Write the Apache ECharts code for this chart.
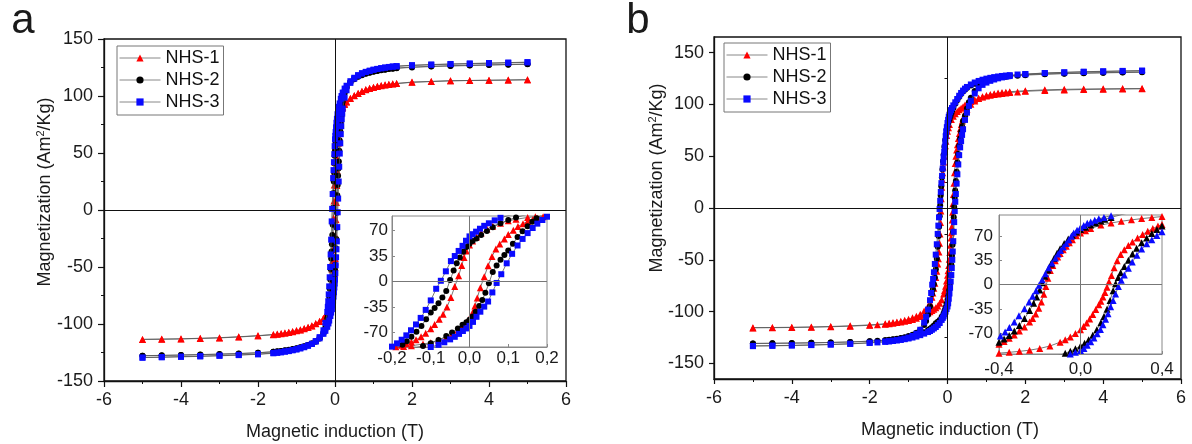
<!DOCTYPE html>
<html><head><meta charset="utf-8">
<script src="https://cdn.jsdelivr.net/npm/echarts@6/dist/echarts.min.js"></script>
<style>html,body{margin:0;padding:0;background:#fff}#c{width:1192px;height:444px}</style>
</head><body><div id="c"></div>
<script>
// ---------- names / ticks ----------
const SERIES_NAMES = ['NHS-1', 'NHS-2', 'NHS-3'];
const Y_TICKS_B = [-150, -100, -50, 0, 50, 100, 150];
const Y_MINOR_B = [-125, -75, -25, 25, 75, 125];
const Y_TICKS_INSET = [-70, -35, 0, 35, 70];

// ---------- panel a: NHS-1 ----------
const A1_DOWN = [[5,114.2],[4.5,114],[4,113.8],[3.5,113.6],[3,113.4],[2.5,112.8],[2,112.2],[1.6,111],[1.5,110.7],[1.4,110.3],[1.3,109.8],[1.2,109.2],[1.1,108.5],[1,107.7],[0.9,106.8],[0.8,105.6],[0.7,104.2],[0.6,102.5],[0.5,100.5],[0.4,98],[0.3,95],[0.25,93],[0.2,90.5],[0.17,89],[0.15,88],[0.12,85.5],[0.1,83.5],[0.08,80],[0.06,76],[0.045,72],[0.03,66.5],[0.018,61],[0.008,55.5],[0,50],[-0.008,42],[-0.014,33],[-0.02,22],[-0.028,8],[-0.038,-7],[-0.048,-22],[-0.058,-35],[-0.068,-45],[-0.078,-52],[-0.09,-59],[-0.1,-65],[-0.113,-71],[-0.125,-76],[-0.138,-80],[-0.15,-83],[-0.163,-85.5],[-0.175,-87.5],[-0.19,-89.5],[-0.2,-91],[-0.25,-93],[-0.3,-95],[-0.4,-97.5],[-0.5,-99.5],[-0.6,-101.5],[-0.7,-102.8],[-0.8,-104],[-0.9,-105],[-1,-105.8],[-1.1,-106.6],[-1.2,-107.2],[-1.3,-107.8],[-1.4,-108.3],[-1.5,-108.8],[-1.6,-109.2],[-2,-110.2],[-2.5,-111.2],[-3,-112],[-3.5,-112.5],[-4,-113],[-4.5,-113.2],[-5,-113.5]];
const A1_UP = [[-5,-113.7],[-4.5,-113.4],[-4,-113.1],[-3.5,-112.7],[-3,-112.2],[-2.5,-111.4],[-2,-110.4],[-1.6,-109.4],[-1.5,-109],[-1.4,-108.5],[-1.3,-108],[-1.2,-107.4],[-1.1,-106.8],[-1,-106],[-0.9,-105.2],[-0.8,-104.2],[-0.7,-103],[-0.6,-101.7],[-0.5,-99.8],[-0.4,-97.8],[-0.3,-95.2],[-0.25,-93.4],[-0.2,-91.3],[-0.17,-89.3],[-0.15,-88.2],[-0.12,-86],[-0.1,-84],[-0.08,-80.5],[-0.06,-76.5],[-0.045,-72.5],[-0.03,-67],[-0.018,-61.5],[-0.008,-56],[0,-50.5],[0.008,-42.5],[0.014,-33.5],[0.02,-22.5],[0.028,-8.5],[0.038,6.5],[0.048,21.5],[0.058,34.5],[0.068,44.5],[0.078,51.5],[0.09,58.5],[0.1,64.5],[0.113,70.5],[0.125,75.5],[0.138,79.5],[0.15,82.5],[0.163,85],[0.175,87],[0.19,89],[0.2,90.2],[0.25,92.6],[0.3,94.7],[0.4,97.7],[0.5,100.2],[0.6,102.3],[0.7,104],[0.8,105.4],[0.9,106.6],[1,107.5],[1.1,108.3],[1.2,109],[1.3,109.6],[1.4,110.1],[1.5,110.5],[1.6,110.9],[2,112],[2.5,112.7],[3,113.3],[3.5,113.6],[4,113.8],[4.5,114],[5,114.3]];

// ---------- panel a: NHS-2 ----------
const A2_DOWN = [[5,127.8],[4.5,127.5],[4,127.1],[3.5,126.7],[3,126.3],[2.5,125.8],[2,125.1],[1.6,124.3],[1.5,124],[1.4,123.6],[1.3,123.1],[1.2,122.6],[1.1,122],[1,121.3],[0.9,120.5],[0.8,119.5],[0.7,118.3],[0.6,116.8],[0.5,114.8],[0.4,112],[0.3,107.8],[0.25,104.5],[0.2,99.5],[0.17,95.5],[0.15,92.5],[0.12,88],[0.1,84.5],[0.08,80],[0.06,74.5],[0.045,69.5],[0.03,64],[0.018,59],[0.008,55.5],[0,52],[-0.008,47.5],[-0.016,41],[-0.025,33],[-0.033,25],[-0.041,15],[-0.05,2],[-0.06,-13],[-0.07,-22],[-0.08,-30],[-0.09,-36.5],[-0.1,-42.5],[-0.112,-52],[-0.124,-61],[-0.137,-69],[-0.15,-76],[-0.162,-82],[-0.173,-87],[-0.187,-91.5],[-0.2,-95],[-0.25,-103],[-0.3,-108],[-0.4,-112.8],[-0.5,-115.3],[-0.6,-117.1],[-0.7,-118.5],[-0.8,-119.6],[-0.9,-120.5],[-1,-121.3],[-1.1,-122],[-1.2,-122.6],[-1.3,-123.1],[-1.4,-123.6],[-1.5,-124],[-1.6,-124.3],[-2,-125.2],[-2.5,-125.9],[-3,-126.4],[-3.5,-126.8],[-4,-127.2],[-4.5,-127.5],[-5,-127.8]];
const A2_UP = [[-5,-127.9],[-4.5,-127.6],[-4,-127.3],[-3.5,-126.9],[-3,-126.5],[-2.5,-126],[-2,-125.3],[-1.6,-124.4],[-1.5,-124.1],[-1.4,-123.7],[-1.3,-123.2],[-1.2,-122.7],[-1.1,-122.1],[-1,-121.4],[-0.9,-120.6],[-0.8,-119.7],[-0.7,-118.6],[-0.6,-117.2],[-0.5,-115.3],[-0.4,-112.5],[-0.3,-108.3],[-0.25,-105.3],[-0.2,-100],[-0.17,-96],[-0.15,-92.5],[-0.12,-88.5],[-0.1,-85],[-0.08,-80.5],[-0.06,-75],[-0.045,-70],[-0.03,-64.5],[-0.018,-59.5],[-0.008,-56],[0,-52.5],[0.008,-48],[0.016,-41.5],[0.025,-33.5],[0.033,-25.5],[0.041,-15.5],[0.05,-2.5],[0.06,13],[0.07,22],[0.08,30],[0.09,36.5],[0.1,42.5],[0.112,52],[0.124,61],[0.137,69],[0.15,76],[0.162,82],[0.173,87],[0.187,91.5],[0.2,95],[0.25,102.5],[0.3,107.5],[0.4,112.5],[0.5,115.2],[0.6,117.2],[0.7,118.7],[0.8,119.8],[0.9,120.7],[1,121.5],[1.1,122.2],[1.2,122.8],[1.3,123.3],[1.4,123.8],[1.5,124.2],[1.6,124.5],[2,125.4],[2.5,126.1],[3,126.6],[3.5,127],[4,127.4],[4.5,127.7],[5,128]];

// ---------- panel a: NHS-3 ----------
const A3_DOWN = [[5,129.5],[4.5,129.1],[4,128.7],[3.5,128.3],[3,127.9],[2.5,127.4],[2,126.8],[1.6,126],[1.5,125.7],[1.4,125.3],[1.3,124.8],[1.2,124.3],[1.1,123.7],[1,123],[0.9,122.2],[0.8,121.2],[0.7,120],[0.6,118.3],[0.5,116],[0.4,113],[0.3,109],[0.25,106.5],[0.2,103],[0.17,100],[0.15,97.5],[0.12,93.5],[0.1,90.5],[0.08,87.5],[0.065,84],[0.05,80],[0.038,76.5],[0.027,72.5],[0.017,68.5],[0.008,65],[0,62],[-0.009,56],[-0.018,49],[-0.028,42],[-0.038,35],[-0.048,28],[-0.061,14],[-0.074,1],[-0.086,-10],[-0.1,-26],[-0.113,-39],[-0.126,-50],[-0.138,-59],[-0.151,-67],[-0.163,-74],[-0.175,-80],[-0.187,-85],[-0.2,-89.5],[-0.25,-99],[-0.3,-105.5],[-0.4,-111.5],[-0.5,-115],[-0.6,-117.3],[-0.7,-118.8],[-0.8,-120],[-0.9,-121],[-1,-122],[-1.1,-122.8],[-1.2,-123.5],[-1.3,-124],[-1.4,-124.6],[-1.5,-125],[-1.6,-125.4],[-2,-126.4],[-2.5,-127.1],[-3,-127.7],[-3.5,-128.2],[-4,-128.6],[-4.5,-129],[-5,-129.4]];
const A3_UP = [[-5,-129.6],[-4.5,-129.2],[-4,-128.8],[-3.5,-128.4],[-3,-127.9],[-2.5,-127.3],[-2,-126.6],[-1.6,-125.7],[-1.5,-125.3],[-1.4,-124.9],[-1.3,-124.3],[-1.2,-123.8],[-1.1,-123.1],[-1,-122.4],[-0.9,-121.5],[-0.8,-120.4],[-0.7,-119.1],[-0.6,-117.5],[-0.5,-115.4],[-0.4,-112.6],[-0.3,-108.6],[-0.25,-106],[-0.2,-102.5],[-0.17,-99.5],[-0.15,-97],[-0.12,-93],[-0.1,-90],[-0.08,-87],[-0.065,-83.5],[-0.05,-79.5],[-0.038,-76],[-0.027,-72],[-0.017,-68],[-0.008,-64.5],[0,-61],[0.009,-55.5],[0.018,-48.5],[0.028,-41.5],[0.038,-34.5],[0.048,-27.5],[0.059,-15],[0.07,-2],[0.082,10],[0.096,25],[0.11,38],[0.124,49.5],[0.137,58.5],[0.15,66.5],[0.163,73.5],[0.175,79.5],[0.188,84.5],[0.2,89],[0.25,98.5],[0.3,105],[0.4,111.5],[0.5,115.2],[0.6,117.8],[0.7,119.7],[0.8,121],[0.9,122],[1,123],[1.1,123.8],[1.2,124.4],[1.3,125],[1.4,125.5],[1.5,125.9],[1.6,126.2],[2,127],[2.5,127.6],[3,128.1],[3.5,128.5],[4,128.9],[4.5,129.3],[5,129.7]];

// ---------- panel b: NHS-1 ----------
const B1_DOWN = [[5,115],[4.5,114.8],[4,114.6],[3.5,114.3],[3,113.9],[2.5,113.4],[2,112.6],[1.8,112],[1.6,111.4],[1.5,111],[1.4,110.5],[1.3,110],[1.2,109.4],[1.1,108.7],[1,108],[0.9,107],[0.8,105.8],[0.7,104.4],[0.6,102.7],[0.5,100.6],[0.45,99.3],[0.4,97.8],[0.35,96.3],[0.3,94.8],[0.25,93],[0.2,91],[0.15,88.5],[0.1,85.5],[0.05,80.5],[0.025,77.5],[0,74],[-0.02,70],[-0.04,64.5],[-0.055,60],[-0.07,55],[-0.085,50],[-0.1,44.5],[-0.112,39.5],[-0.124,34],[-0.136,27.5],[-0.148,20],[-0.16,9],[-0.17,-3],[-0.18,-14],[-0.192,-25],[-0.205,-34],[-0.22,-42.5],[-0.235,-49],[-0.25,-54],[-0.275,-61],[-0.3,-67],[-0.325,-72.5],[-0.35,-77.5],[-0.375,-82],[-0.4,-86],[-0.45,-91.5],[-0.5,-95],[-0.6,-99.5],[-0.7,-102.5],[-0.8,-104.5],[-0.9,-106],[-1,-107.3],[-1.1,-108.4],[-1.2,-109.3],[-1.3,-110],[-1.4,-110.6],[-1.5,-111.2],[-1.6,-111.7],[-2,-112.8],[-2.5,-113.7],[-3,-114.3],[-3.5,-114.8],[-4,-115.1],[-4.5,-115.3],[-5,-115.5]];
const B1_UP = [[-5,-115.7],[-4.5,-115.5],[-4,-115.3],[-3.5,-115],[-3,-114.6],[-2.5,-114],[-2,-113.2],[-1.8,-112.7],[-1.6,-112.1],[-1.5,-111.7],[-1.4,-111.2],[-1.3,-110.6],[-1.2,-110],[-1.1,-109.3],[-1,-108.5],[-0.9,-107.5],[-0.8,-106.3],[-0.7,-104.8],[-0.6,-103],[-0.5,-101],[-0.45,-100],[-0.4,-98.8],[-0.35,-97.6],[-0.3,-96.2],[-0.25,-94.5],[-0.2,-92],[-0.15,-88.5],[-0.1,-83],[-0.075,-79.5],[-0.05,-75.5],[-0.025,-70.5],[0,-65],[0.015,-60.5],[0.03,-55.5],[0.045,-49.5],[0.06,-43],[0.075,-36],[0.09,-29],[0.1,-24],[0.11,-18],[0.12,-11.5],[0.13,-4],[0.14,4],[0.152,13],[0.165,24],[0.18,34],[0.197,43],[0.215,50],[0.235,56],[0.255,61],[0.28,67],[0.305,72],[0.33,76.5],[0.355,80.5],[0.38,84],[0.4,86.5],[0.45,91.5],[0.5,95],[0.6,100],[0.7,103.3],[0.8,105.7],[0.9,107.3],[1,108.6],[1.1,109.6],[1.2,110.3],[1.3,110.9],[1.4,111.4],[1.5,111.8],[1.6,112.2],[2,113.2],[2.5,114],[3,114.5],[3.5,114.8],[4,115],[4.5,115.2],[5,115.3]];

// ---------- panel b: NHS-2 ----------
const B2_DOWN = [[5,131],[4.5,130.7],[4,130.4],[3.5,130],[3,129.6],[2.5,129],[2,128.2],[1.8,127.7],[1.6,127.1],[1.5,126.7],[1.4,126.3],[1.3,125.8],[1.2,125.2],[1.1,124.5],[1,123.7],[0.9,122.7],[0.8,121.5],[0.7,120],[0.6,118.2],[0.5,115.8],[0.45,114.2],[0.4,112.3],[0.35,110],[0.3,107.2],[0.25,104],[0.2,100.5],[0.15,96.5],[0.12,94],[0.1,91.5],[0.075,88.5],[0.05,85.5],[0.025,82.5],[0,79],[-0.02,75.5],[-0.04,71],[-0.06,65.5],[-0.08,59],[-0.1,51.5],[-0.115,45],[-0.13,37.5],[-0.145,29.5],[-0.16,21],[-0.175,12],[-0.188,2.5],[-0.2,-8],[-0.215,-18],[-0.23,-27],[-0.25,-37.5],[-0.275,-49],[-0.3,-59],[-0.325,-67],[-0.35,-73.5],[-0.375,-78.5],[-0.4,-83],[-0.45,-95],[-0.5,-103],[-0.55,-109],[-0.6,-113],[-0.7,-117.5],[-0.8,-120.3],[-0.9,-122.2],[-1,-123.6],[-1.1,-124.6],[-1.2,-125.4],[-1.3,-126.1],[-1.4,-126.7],[-1.5,-127.1],[-1.6,-127.5],[-2,-128.5],[-2.5,-129.3],[-3,-129.8],[-3.5,-130.1],[-4,-130.3],[-4.5,-130.5],[-5,-130.7]];
const B2_UP = [[-5,-130.8],[-4.5,-130.6],[-4,-130.4],[-3.5,-130.1],[-3,-129.7],[-2.5,-129.2],[-2,-128.5],[-1.8,-128.1],[-1.6,-127.6],[-1.5,-127.3],[-1.4,-126.9],[-1.3,-126.4],[-1.2,-125.9],[-1.1,-125.3],[-1,-124.6],[-0.9,-123.8],[-0.8,-122.7],[-0.7,-121.4],[-0.6,-119.8],[-0.5,-117.7],[-0.45,-116.4],[-0.4,-115],[-0.35,-113.3],[-0.3,-111.3],[-0.25,-109.8],[-0.2,-108],[-0.15,-105],[-0.1,-101.5],[-0.075,-99],[-0.05,-96],[-0.025,-92.5],[0,-88.5],[0.02,-84.5],[0.04,-79.5],[0.06,-73],[0.08,-65],[0.1,-55],[0.115,-46],[0.13,-35.5],[0.145,-23],[0.16,-9],[0.172,1],[0.185,10],[0.197,17],[0.215,26],[0.235,35],[0.255,44],[0.275,52],[0.3,60],[0.325,67],[0.35,73.5],[0.375,79],[0.4,84],[0.45,89],[0.5,96],[0.55,102],[0.6,106.5],[0.7,113],[0.8,117.5],[0.9,120.7],[1,122.8],[1.1,124.2],[1.2,125.3],[1.3,126.1],[1.4,126.7],[1.5,127.2],[1.6,127.6],[2,128.6],[2.5,129.4],[3,129.9],[3.5,130.3],[4,130.6],[4.5,130.9],[5,131.2]];

// ---------- panel b: NHS-3 ----------
const B3_DOWN = [[5,132.3],[4.5,132],[4,131.7],[3.5,131.3],[3,130.8],[2.5,130.2],[2,129.3],[1.8,128.8],[1.6,128.2],[1.5,127.8],[1.4,127.4],[1.3,126.9],[1.2,126.3],[1.1,125.6],[1,124.8],[0.9,123.8],[0.8,122.6],[0.7,121.1],[0.6,119.2],[0.5,116.8],[0.45,115.2],[0.4,113.3],[0.35,111],[0.3,108.3],[0.25,105.2],[0.2,102],[0.15,99],[0.115,96.5],[0.09,94.5],[0.07,92.5],[0.05,90],[0.033,88],[0.016,85],[0,82],[-0.017,78],[-0.033,74],[-0.045,69.5],[-0.057,64],[-0.07,59],[-0.084,54],[-0.098,49],[-0.11,44],[-0.123,38],[-0.14,31],[-0.156,24],[-0.172,15.5],[-0.188,7],[-0.203,-1],[-0.218,-9],[-0.235,-17],[-0.252,-25],[-0.275,-35],[-0.302,-45],[-0.325,-54],[-0.349,-62],[-0.37,-68.5],[-0.393,-74],[-0.42,-82],[-0.45,-89],[-0.5,-98],[-0.55,-105],[-0.6,-110.5],[-0.7,-117.5],[-0.8,-121.3],[-0.9,-123.5],[-1,-125],[-1.1,-126],[-1.2,-126.8],[-1.3,-127.5],[-1.4,-128],[-1.5,-128.5],[-1.6,-128.9],[-2,-130],[-2.5,-131],[-3,-131.6],[-3.5,-132.1],[-4,-132.5],[-4.5,-132.8],[-5,-133.1]];
const B3_UP = [[-5,-133.3],[-4.5,-133],[-4,-132.7],[-3.5,-132.3],[-3,-131.8],[-2.5,-131.1],[-2,-130.2],[-1.8,-129.7],[-1.6,-129.1],[-1.5,-128.7],[-1.4,-128.3],[-1.3,-127.8],[-1.2,-127.3],[-1.1,-126.6],[-1,-125.9],[-0.9,-125],[-0.8,-124],[-0.7,-122.7],[-0.6,-121.2],[-0.5,-119.7],[-0.45,-118.7],[-0.4,-117.5],[-0.35,-116.2],[-0.3,-114.8],[-0.25,-113],[-0.2,-111],[-0.15,-108],[-0.12,-106],[-0.1,-104.5],[-0.075,-102.5],[-0.05,-100],[-0.025,-97.5],[0,-95],[0.017,-92],[0.033,-87.5],[0.05,-82.5],[0.066,-77],[0.082,-71],[0.098,-64.7],[0.11,-58],[0.123,-50],[0.135,-42],[0.148,-32],[0.16,-23],[0.172,-13.6],[0.186,-3],[0.2,6],[0.215,13.5],[0.235,23.5],[0.254,32.5],[0.277,42],[0.3,51],[0.325,58.5],[0.35,64.5],[0.375,70.5],[0.4,76],[0.45,85],[0.5,92],[0.55,98.5],[0.6,103.5],[0.7,110.5],[0.8,115.5],[0.9,118.8],[1,121],[1.1,122.7],[1.2,124],[1.3,125.1],[1.4,126],[1.5,126.7],[1.6,127.3],[2,129],[2.5,130.2],[3,130.9],[3.5,131.5],[4,131.9],[4.5,132.3],[5,132.6]];

// ---------- styling ----------
const FONT = '"Liberation Sans", Arial, sans-serif';
const COLORS = ['#ff0000', '#000000', '#0a0aff'];
const SYMBOLS = ['triangle', 'circle', 'rect'];
const SIZES = [7, 6, 6];
const LABEL = { fontSize: 18, color: '#1a1a1a', fontFamily: FONT };
const ILABEL = { fontSize: 17, color: '#1a1a1a', fontFamily: FONT };

const chart = echarts.init(document.getElementById('c'), null, { renderer: 'canvas' });

function mainX(grid, tickLen) {
  return { gridIndex: grid, type: 'value', min: -6, max: 6, interval: 2,
    axisLine: { show: true, onZero: false, lineStyle: { color: '#111', width: 1.3 } },
    axisTick: { show: true, inside: false, length: tickLen, lineStyle: { color: '#111', width: 1.2 } },
    minorTick: { show: true, splitNumber: 2, length: 3, lineStyle: { color: '#111', width: 1 } },
    axisLabel: Object.assign({ margin: 10 }, LABEL), splitLine: { show: false } };
}
function insetX(grid, min, max, interval, margin) {
  return { gridIndex: grid, type: 'value', min: min, max: max, interval: interval,
    axisLine: { show: true, onZero: false, lineStyle: { color: '#888', width: 1 } },
    axisTick: { show: true, inside: true, length: 3, lineStyle: { color: '#888' } },
    axisLabel: Object.assign({ margin: margin, formatter: v => v.toFixed(1).replace('.', ',') }, ILABEL),
    splitLine: { show: false } };
}
function insetY(grid, lim, margin) {
  return { gridIndex: grid, type: 'value', min: -lim, max: lim,
    axisLine: { show: true, onZero: false, lineStyle: { color: '#888', width: 1 } },
    axisTick: { show: true, inside: true, length: 3, customValues: Y_TICKS_INSET, lineStyle: { color: '#888' } },
    axisLabel: Object.assign({ margin: margin, customValues: Y_TICKS_INSET }, ILABEL),
    splitLine: { show: false } };
}

const grids = [
  { left: 104, top: 39, width: 462, height: 342, show: true, borderColor: '#111', borderWidth: 1.3 },
  { left: 392, top: 216, width: 155, height: 131, show: true, borderColor: '#888', borderWidth: 1 },
  { left: 714, top: 37, width: 467, height: 342, show: true, borderColor: '#111', borderWidth: 1.3 },
  { left: 999, top: 215, width: 163, height: 139, show: true, borderColor: '#888', borderWidth: 1 }
];

const xAxes = [
  mainX(0, 6),
  insetX(1, -0.2, 0.2, 0.1, 3),
  mainX(2, 5),
  insetX(3, -0.4, 0.4, 0.4, 7)
];
const yAxes = [
  { gridIndex: 0, type: 'value', min: -150, max: 150, interval: 50,
    axisLine: { show: true, onZero: false, lineStyle: { color: '#111', width: 1.3 } },
    axisTick: { show: true, length: 6, lineStyle: { color: '#111', width: 1.2 } },
    minorTick: { show: true, splitNumber: 2, length: 3, lineStyle: { color: '#111', width: 1 } },
    axisLabel: Object.assign({ margin: 11 }, LABEL), splitLine: { show: false } },
  insetY(1, 90, 4),
  { gridIndex: 2, type: 'value', min: -165, max: 165, position: 'left',
    axisLine: { show: true, onZero: false, lineStyle: { color: '#111', width: 1.3 } },
    axisTick: { show: true, length: 5, customValues: Y_TICKS_B, lineStyle: { color: '#111', width: 1.2 } },
    axisLabel: Object.assign({ margin: 10, customValues: Y_TICKS_B }, LABEL), splitLine: { show: false } },
  { gridIndex: 2, type: 'value', min: -165, max: 165, position: 'left', offset: 0,
    axisLine: { show: false },
    axisTick: { show: true, length: 3, customValues: Y_MINOR_B, lineStyle: { color: '#111', width: 1 } },
    axisLabel: { show: false, customValues: Y_MINOR_B }, splitLine: { show: false } },
  insetY(3, 100, 6)
];

const panels = [
  { xi: 0, yi: 0, ixi: 1, iyi: 1, loops: [A1_DOWN.concat(A1_UP), A2_DOWN.concat(A2_UP), A3_DOWN.concat(A3_UP)], insetSym: SYMBOLS },
  { xi: 2, yi: 2, ixi: 3, iyi: 4, loops: [B1_DOWN.concat(B1_UP), B2_DOWN.concat(B2_UP), B3_DOWN.concat(B3_UP)], insetSym: ['triangle', 'triangle', 'triangle'] }
];

function cross(color) {
  return { silent: true, symbol: ['none', 'none'], label: { show: false }, animation: false,
    lineStyle: { color: color, width: 1, type: 'solid' }, emphasis: { disabled: true },
    data: [{ xAxis: 0 }, { yAxis: 0 }] };
}

const series = [];
panels.forEach(p => {
  p.loops.forEach((d, i) => {
    const s = { name: SERIES_NAMES[i], type: 'line', xAxisIndex: p.xi, yAxisIndex: p.yi, data: d,
      symbol: SYMBOLS[i], symbolSize: SIZES[i], showAllSymbol: true, clip: true,
      itemStyle: { color: COLORS[i] }, lineStyle: { color: '#555', width: 0.8 },
      emphasis: { disabled: true }, animation: false, z: 2 + i };
    if (i === 0) s.markLine = cross('#111');
    series.push(s);
  });
});
panels.forEach(p => {
  p.loops.forEach((d, i) => {
    const s = { name: SERIES_NAMES[i], type: 'line', xAxisIndex: p.ixi, yAxisIndex: p.iyi, data: d,
      symbol: p.insetSym[i], symbolSize: p.insetSym[i] === 'triangle' ? 7 : 6, showAllSymbol: true, clip: true,
      itemStyle: { color: COLORS[i] }, lineStyle: { color: '#555', width: 0.8 },
      emphasis: { disabled: true }, animation: false, z: 2 + i };
    if (i === 0) s.markLine = cross('#777');
    series.push(s);
  });
});

const legendBase = { orient: 'vertical', data: SERIES_NAMES, selectedMode: false,
  itemWidth: 41, itemHeight: 9, itemGap: 4, padding: [3, 4, 4, 2],
  borderColor: '#777', borderWidth: 1, backgroundColor: '#fff',
  lineStyle: { color: '#888', width: 1 },
  textStyle: { fontSize: 18, color: '#111', fontFamily: FONT, lineHeight: 18 } };

function txt(x, y, text, size, rot, extra) {
  return Object.assign({ type: 'text', x: x, y: y, rotation: rot || 0, silent: true,
    style: { text: text, fontSize: size, fontFamily: FONT, fill: '#1a1a1a',
      align: 'center', verticalAlign: 'middle', textAlign: 'center', textVerticalAlign: 'middle' } }, extra || {});
}
const yTitleRich = { sup: { fontSize: 11, fontFamily: FONT, fill: '#1a1a1a', verticalAlign: 'top', padding: [0, 0, 8, 0] } };
const yA = txt(45, 192, 'Magnetization (Am{sup|2}/Kg)', 18, Math.PI / 2); yA.style.rich = yTitleRich;
const yB = txt(657, 178, 'Magnetization (Am{sup|2}/Kg)', 18, Math.PI / 2); yB.style.rich = yTitleRich;

chart.setOption({
  animation: false,
  backgroundColor: '#fff',
  grid: grids,
  xAxis: xAxes,
  yAxis: yAxes,
  legend: [
    Object.assign({ left: 117, top: 46 }, legendBase),
    Object.assign({ left: 724, top: 43 }, legendBase)
  ],
  graphic: [
    txt(23, 21, 'a', 42, 0, {}),
    txt(638, 21, 'b', 42, 0, {}),
    txt(335, 432, 'Magnetic induction (T)', 18, 0),
    txt(950, 430, 'Magnetic induction (T)', 18, 0),
    yA, yB
  ],
  series: series
});
</script>
</body></html>
